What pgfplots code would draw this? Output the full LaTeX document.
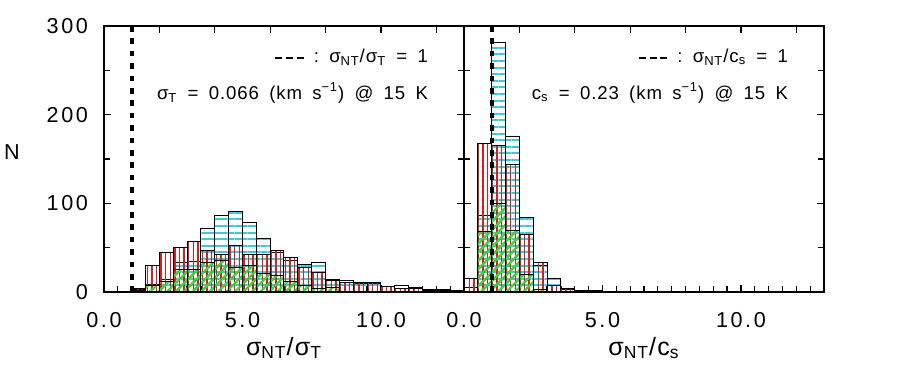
\documentclass[border=0pt]{standalone}
\usepackage{fontspec}
\setmainfont{Liberation Sans}[LetterSpace=5]
\newfontfamily\tickfont{Liberation Sans}[LetterSpace=12]
\usepackage{pgfplots}
\pgfplotsset{compat=1.18}
\usetikzlibrary{patterns.meta}

\definecolor{hcyan}{RGB}{64,200,216}
\definecolor{hred}{RGB}{215,30,30}
\definecolor{hgreen}{RGB}{60,210,60}

\newcommand\gap{\hspace{0.55em}}
\newcommand\dashes{\rule[0.3ex]{3.5pt}{1.4pt}\hspace{1.8pt}\rule[0.3ex]{3.5pt}{1.4pt}\hspace{1.8pt}\rule[0.3ex]{3.5pt}{1.4pt}}

\pgfplotsset{
  panel/.style={
    scale only axis, width=180pt, height=133pt,
    anchor=south west,
    xmin=0, xmax=13, ymin=0, ymax=300,
    xtick={0,5,10}, xticklabels={0.0,5.0,10.0},
    minor xtick={0,0.5,...,13},
    xtick pos=left,
    ytick={0,100,200,300}, minor ytick={50,150,250},
    tick align=inside,
    major tick length=3.5pt, minor tick length=3pt,
    axis line style={line width=0.6pt},
    every tick/.style={black, line width=0.6pt},
    tick label style={font=\tickfont\fontsize{10.8}{12}\selectfont},
    xticklabel style={yshift=-6.5pt},
    yticklabel style={xshift=-4.5pt},
    xlabel style={at={(axis description cs:0.5,0)}, anchor=center, yshift=-28pt,
      font=\fontsize{12.5}{14}\selectfont},
  },
  cyanbar/.style={ybar interval, draw=black, line width=0.5pt,
    pattern={Lines[angle=0,distance=3.3pt,line width=1pt]}, pattern color=hcyan},
  redbar/.style={ybar interval, draw=black, line width=0.5pt,
    pattern={Lines[angle=90,distance=2.3pt,line width=0.7pt]}, pattern color=hred},
  greenbar/.style={ybar interval, draw=black, line width=0.5pt,
    pattern={Lines[angle=45,distance=3pt,line width=1.2pt]}, pattern color=hgreen},
  refline/.style={black, line width=2pt, dash pattern=on 2.8pt off 3.4pt},
}

\begin{document}
\begin{tikzpicture}
\path[use as bounding box] (0,0) rectangle (453.5pt,195.5pt);

\node[font=\tickfont\fontsize{10.8}{12}\selectfont] at (6pt,119.5pt) {N};

% left panel: sigma_NT / sigma_T
\begin{axis}[panel, at={(52pt,49.5pt)},
  yticklabels={0,100,200,300},
  xlabel={σ\textsubscript{NT}/σ\textsubscript{T}}]
\addplot[cyanbar] coordinates {
  (1.0,3) (1.5,9) (2.0,14) (2.5,33) (3.0,34) (3.5,72) (4.0,86) (4.5,91)
  (5.0,78) (5.5,60) (6.0,44) (6.5,36) (7.0,31) (7.5,33) (8.0,14) (8.5,13.5)
  (9.0,10) (9.5,10) (10.0,6) (10.5,7.5) (11.0,5.5) (11.5,3) (12.0,3) (12.5,2) (13.0,0)};
\addplot[redbar] coordinates {
  (1.0,4) (1.5,30) (2.0,45) (2.5,50) (3.0,57) (3.5,47) (4.0,42) (4.5,53)
  (5.0,42) (5.5,42) (6.0,47) (6.5,39) (7.0,28) (7.5,22) (8.0,13) (8.5,11)
  (9.0,10.5) (9.5,10.5) (10.0,6.4) (10.5,4.5) (11.0,4) (11.5,2) (12.0,2) (12.5,1) (13.0,0)};
\addplot[greenbar] coordinates {
  (1.0,2) (1.5,7) (2.0,12) (2.5,25) (3.0,25) (3.5,33) (4.0,35) (4.5,28)
  (5.0,30) (5.5,21) (6.0,19) (6.5,12) (7.0,7) (7.5,4) (8.0,5) (8.5,1) (9.0,0)};
\addplot[refline] coordinates {(1,0) (1,300)};
\pgfplotsinvokeforeach{2,4,6,8,10,12}{
  \draw[line width=0.6pt] (axis cs:#1,300) -- ([yshift=-3.5pt]axis cs:#1,300);}
\node[anchor=east, font=\fontsize{9.3}{11}\selectfont]
  at ([xshift=-14.5pt,yshift=-15.5pt]rel axis cs:1,1)
  {\dashes\gap:\gap σ\textsubscript{NT}/σ\textsubscript{T}\gap=\gap1};
\node[anchor=east, font=\fontsize{9.3}{11}\selectfont]
  at ([xshift=-14.5pt,yshift=-33.5pt]rel axis cs:1,1)
  {σ\textsubscript{T}\gap=\gap0.066\gap(km\gap s\textsuperscript{−1})\gap@\gap15\gap K};
\end{axis}

% right panel: sigma_NT / c_s
\begin{axis}[panel, at={(232pt,49.5pt)},
  yticklabels={},
  xlabel={σ\textsubscript{NT}/c\textsubscript{s}}]
\addplot[cyanbar] coordinates {
  (0.0,5) (0.5,86) (1.0,281) (1.5,175) (2.0,84) (2.5,30) (3.0,15) (3.5,3)
  (4.0,2) (4.5,1) (5.0,0)};
\addplot[redbar] coordinates {
  (0.0,15) (0.5,168) (1.0,165) (1.5,144) (2.0,65) (2.5,33) (3.0,7) (3.5,4)
  (4.0,2) (4.5,2) (5.0,0)};
\addplot[greenbar] coordinates {
  (0.5,68) (1.0,100) (1.5,69) (2.0,20) (2.5,3) (3.0,0)};
\addplot[refline] coordinates {(1,0) (1,300)};
\pgfplotsinvokeforeach{2,4,6,8,10,12}{
  \draw[line width=0.6pt] (axis cs:#1,300) -- ([yshift=-3.5pt]axis cs:#1,300);}
\node[anchor=east, font=\fontsize{9.3}{11}\selectfont]
  at ([xshift=-14.5pt,yshift=-15.5pt]rel axis cs:1,1)
  {\dashes\gap:\gap σ\textsubscript{NT}/c\textsubscript{s}\gap=\gap1};
\node[anchor=east, font=\fontsize{9.3}{11}\selectfont]
  at ([xshift=-14.5pt,yshift=-33.5pt]rel axis cs:1,1)
  {c\textsubscript{s}\gap=\gap0.23\gap(km\gap s\textsuperscript{−1})\gap@\gap15\gap K};
\end{axis}
\end{tikzpicture}
\end{document}
